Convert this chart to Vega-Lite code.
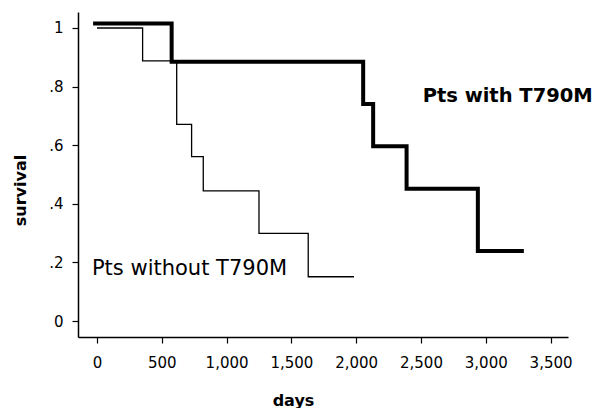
{
  "$schema": "https://vega.github.io/schema/vega-lite/v6.json",
  "width": 490,
  "height": 325,
  "autosize": {"type": "none"},
  "padding": {"left": 78, "top": 12, "right": 28, "bottom": 71},
  "background": "white",
  "config": {
    "view": {"stroke": null},
    "font": "DejaVu Sans",
    "axis": {"grid": false, "domainColor": "black", "domainWidth": 1.5, "tickColor": "black", "tickWidth": 1.2, "labelColor": "black", "titleColor": "black", "labelFont": "DejaVu Sans", "titleFont": "DejaVu Sans"}
  },
  "datasets": {
    "curves": [
      {"group": "with", "day": -30, "survival": 1.015},
      {"group": "with", "day": 576, "survival": 0.885},
      {"group": "with", "day": 2054, "survival": 0.741},
      {"group": "with", "day": 2131, "survival": 0.596},
      {"group": "with", "day": 2389, "survival": 0.451},
      {"group": "with", "day": 2939, "survival": 0.239},
      {"group": "with", "day": 3294, "survival": 0.239},
      {"group": "without", "day": 0, "survival": 1.0},
      {"group": "without", "day": 352, "survival": 0.888},
      {"group": "without", "day": 615, "survival": 0.671},
      {"group": "without", "day": 730, "survival": 0.561},
      {"group": "without", "day": 820, "survival": 0.444},
      {"group": "without", "day": 1250, "survival": 0.299},
      {"group": "without", "day": 1630, "survival": 0.151},
      {"group": "without", "day": 1983, "survival": 0.151}
    ],
    "labelWith": [
      {"label": "Pts with T790M", "day": 2513, "survival": 0.748}
    ],
    "labelWithout": [
      {"label": "Pts without T790M", "day": -39, "survival": 0.157}
    ]
  },
  "layer": [
    {
      "data": {"name": "curves"},
      "mark": {"type": "line", "interpolate": "step-after", "color": "black", "strokeCap": "butt", "strokeJoin": "miter"},
      "encoding": {
        "x": {
          "field": "day", "type": "quantitative",
          "scale": {"domain": [-146.6, 3634.6], "nice": false, "zero": false},
          "axis": {
            "values": [0, 250, 500, 750, 1000, 1250, 1500, 1750, 2000, 2250, 2500, 2750, 3000, 3250, 3500],
            "labelExpr": "datum.value % 500 == 0 ? format(datum.value, ',') : ''",
            "tickSize": 6, "labelPadding": 12, "labelFontSize": 15,
            "title": "days", "titleFontSize": 16, "titleFontWeight": "bold",
            "titleX": 215, "titleY": 63, "titleBaseline": "middle", "titleAlign": "center"
          }
        },
        "y": {
          "field": "survival", "type": "quantitative",
          "scale": {"domain": [-0.0546, 1.0546], "nice": false, "zero": false},
          "axis": {
            "values": [0, 0.1, 0.2, 0.3, 0.4, 0.5, 0.6, 0.7, 0.8, 0.9, 1],
            "labelExpr": "round(datum.value * 10) % 2 == 1 ? '' : (datum.value == 0 ? '0' : (datum.value == 1 ? '1' : replace(format(datum.value, '.1f'), '0.', '.')))",
            "tickSize": 6, "labelPadding": 9, "labelFontSize": 15,
            "title": "survival", "titleFontSize": 16, "titleFontWeight": "bold",
            "titleX": -58, "titleY": 178, "titleBaseline": "middle", "titleAlign": "center", "titleAngle": -90
          }
        },
        "detail": {"field": "group"},
        "strokeWidth": {"field": "group", "type": "nominal", "scale": {"domain": ["with", "without"], "range": [4, 1.3]}, "legend": null}
      }
    },
    {
      "data": {"name": "labelWith"},
      "mark": {"type": "text", "align": "left", "baseline": "alphabetic", "color": "black", "fontWeight": "bold", "fontSize": 19.5},
      "encoding": {
        "x": {"field": "day", "type": "quantitative"},
        "y": {"field": "survival", "type": "quantitative"},
        "text": {"field": "label"}
      }
    },
    {
      "data": {"name": "labelWithout"},
      "mark": {"type": "text", "align": "left", "baseline": "alphabetic", "color": "black", "fontWeight": "normal", "fontSize": 21},
      "encoding": {
        "x": {"field": "day", "type": "quantitative"},
        "y": {"field": "survival", "type": "quantitative"},
        "text": {"field": "label"}
      }
    }
  ]
}
